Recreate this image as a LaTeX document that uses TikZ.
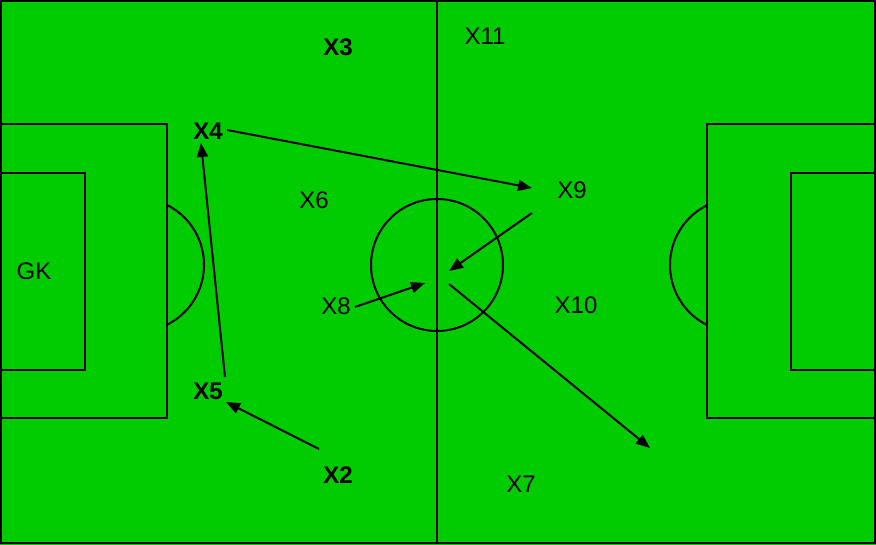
\documentclass[tikz,border=0pt]{standalone}
\usepackage{fontspec}
\setmainfont{Liberation Sans}
\usetikzlibrary{arrows.meta}
\definecolor{pitch}{HTML}{00CC00}
\begin{document}
\begin{tikzpicture}[x=1pt,y=-1pt,
  pline/.style={draw=black,line width=2pt},
  pass/.style={draw=black,line width=2pt,-{Triangle[length=14pt,width=11pt]}},
  lbl/.style={inner sep=0pt,font=\fontsize{24}{28}\selectfont},
  blbl/.style={lbl,font=\fontsize{24}{28}\selectfont\bfseries}]
\useasboundingbox (0,0) rectangle (876,545);
\fill[pitch] (0,0) rectangle (876,545);
% pitch lines
\draw[pline] (1,1) rectangle (875,543);
\draw[pline] (437,1) -- (437,543);
\draw[pline] (437,265) circle[radius=66];
\draw[pline] (1,124) rectangle (167,418);
\draw[pline] (1,173) rectangle (85,370);
\draw[pline] (875,124) rectangle (707,418);
\draw[pline] (875,173) rectangle (791,370);
\draw[pline] (167,205) arc[start angle=-63.4,end angle=63.4,radius=67];
\draw[pline] (707,325) arc[start angle=116.6,end angle=243.4,radius=67];
% players
\node[blbl] (x3) at (338,47) {X3};
\node[lbl] (x11) at (485,36) {X11};
\node[blbl] (x4) at (208,131) {X4};
\node[lbl] (x6) at (314,200) {X6};
\node[lbl] (x9) at (572,190) {X9};
\node[lbl] (gk) at (34,271) {GK};
\node[lbl] (x8) at (336,306) {X8};
\node[lbl] (x10) at (576,305) {X10};
\node[blbl] (x5) at (208,391) {X5};
\node[blbl] (x2) at (338,475) {X2};
\node[lbl] (x7) at (521,484) {X7};
% pass end points
\coordinate (a5s) at (225,377);
\coordinate (a5e) at (201,143);
\coordinate (a4s) at (227,130);
\coordinate (a4e) at (532,188);
\coordinate (a9s) at (532,213);
\coordinate (a9e) at (449,271);
\coordinate (a8s) at (355,307);
\coordinate (a8e) at (425,283);
\coordinate (acs) at (449,284);
\coordinate (ace) at (650,448);
\coordinate (a2s) at (319,449);
\coordinate (a2e) at (226,402);
\draw[pass] (a5s) -- (a5e);
\draw[pass] (a4s) -- (a4e);
\draw[pass] (a9s) -- (a9e);
\draw[pass] (a8s) -- (a8e);
\draw[pass] (acs) -- (ace);
\draw[pass] (a2s) -- (a2e);
\end{tikzpicture}
\end{document}
